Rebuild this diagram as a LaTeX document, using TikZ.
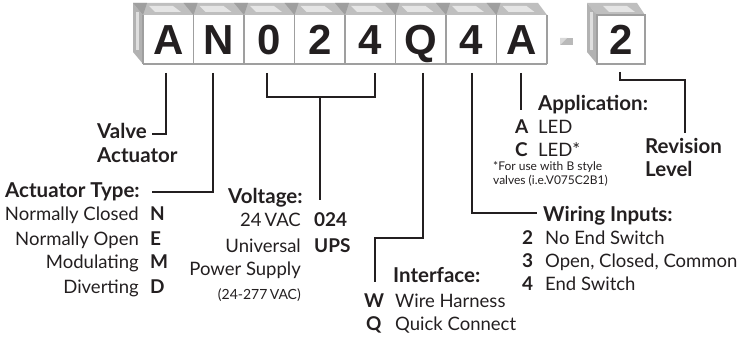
\documentclass[tikz,border=0pt]{standalone}
\usepackage{fontspec}
\setmainfont{Lato}
\newfontfamily\cellfont{Liberation Sans}
\definecolor{ink}{HTML}{231F20}
\tikzset{
    lead/.style={draw=ink, line width=1.4pt},
    cell/.style={font=\cellfont\bfseries\fontsize{42}{42}\selectfont, text=ink, anchor=base, inner sep=0pt},
    sep/.style={draw=gray!75, line width=1.1pt},
    topface/.style={fill=gray!50},
    sideface/.style={fill=gray!60},
    head/.style={font=\fontsize{20.5}{24}\selectfont\bfseries, text=ink, anchor=base west, inner sep=0pt},
    item/.style={font=\fontsize{18.5}{22}\selectfont, text=ink, anchor=base east, inner sep=0pt},
    itemw/.style={item, anchor=base west},
    code/.style={font=\fontsize{19}{22}\selectfont\bfseries, text=ink, anchor=base west, inner sep=0pt},
    note/.style={font=\fontsize{12}{14}\selectfont, text=ink, anchor=base west, inner sep=0pt}
}
\begin{document}
\begin{tikzpicture}[x=1pt, y=-1pt]
    \useasboundingbox (0,0) rectangle (739,339);
    \def \w {50.5}
    \def \xa {143}
    % the row of code boxes
    \fill[topface] (133,3) -- (538,3) -- (547,15) -- (\xa,15) -- cycle;
    \fill[sideface] (133,3) -- (\xa,15) -- (\xa,64) -- (133,52) -- cycle;
    \fill[gray!25] (136,12) rectangle (139,50);
    \fill[white] (\xa,15) rectangle (547,64);
    \foreach \c [count=\i from 0] in {A,N,0,2,4,Q,4,A}{
        \fill[gray!20] ({\xa+\w*\i+6},6) -- ({\xa+\w*\i+30},6) -- ({\xa+\w*\i+38},12) -- ({\xa+\w*\i+12},12) -- cycle;
        \fill[gray!75] ({\xa+\w*\i-10},3) -- ({\xa+\w*\i+4},3) -- ({\xa+\w*\i},15) -- cycle;
        \draw[sep] ({\xa+\w*\i},15) -- ({\xa+\w*\i},64);
        \node[cell] (c\i) at ({\xa+\w*(\i+0.5)},55) {\c};
    }
    \draw[sep] (547,15) -- (547,64);
    \draw[sep] (\xa,64) -- (547,64);
    % dash
    \fill[gray!55] (560,38) rectangle (573,45);
    \fill[gray!30] (560,38) -- (567,38) -- (560,45) -- cycle;
    % revision box
    \fill[topface] (587,3) -- (637,3) -- (645,15) -- (597,15) -- cycle;
    \fill[gray!20] (603,6) -- (627,6) -- (635,12) -- (609,12) -- cycle;
    \fill[sideface] (587,3) -- (597,15) -- (597,64) -- (587,52) -- cycle;
    \fill[gray!25] (590,12) rectangle (593,50);
    \draw[sep, fill=white] (597,15) rectangle (645,64);
    \node[cell] (rv) at (621,55) {2};
    % leader ends
    \coordinate (a1) at (166,73);
    \coordinate (a2) at (152,134);
    \coordinate (n1) at (213,73);
    \coordinate (n2) at (152,192);
    \coordinate (v1) at (267,73);
    \coordinate (v2) at (375,73);
    \coordinate (v3) at (320,97);
    \coordinate (v4) at (320,200);
    \coordinate (q1) at (423,73);
    \coordinate (q2) at (375,282);
    \coordinate (w1) at (472,73);
    \coordinate (w2) at (537,213);
    \coordinate (p1) at (521,73);
    \coordinate (p2) at (521,110);
    \coordinate (r1) at (620,72);
    \coordinate (r2) at (685,133);
    \draw[lead] (a1) |- (a2);
    \draw[lead] (n1) |- (n2);
    \draw[lead] (v1) |- (v3) -| (v2);
    \draw[lead] (v3) -- (v4);
    \draw[lead] (q1) -- (423,238) -| (q2);
    \draw[lead] (w1) |- (w2);
    \draw[lead] (p1) -- (p2);
    \draw[lead] (r1) -- (620,80) -| (r2);
    % valve actuator
    \node[head] (va) at (97,139) {Valve};
    \node[head] (vb) at (97,163) {Actuator};
    % actuator type
    \node[head] (at) at (5,198) {Actuator Type:};
    \foreach \t/\k [count=\i from 0] in {Normally Closed/N, Normally Open/E, Modulating/M, Diverting/D}{
        \node[item] (at\i) at (139,{221+24*\i}) {\t};
        \node[code] (atk\i) at (150,{221+24*\i}) {\k};
    }
    % voltage
    \node[head] (vt) at (228,204) {Voltage:};
    \node[item] (vt0) at (301,227) {24\,VAC};
    \node[code] (vtk0) at (314,227) {024};
    \node[item] (vt1) at (301,252) {Universal};
    \node[code] (vtk1) at (314,252) {UPS};
    \node[item] (vt2) at (301,275) {Power Supply};
    \node[item, font=\fontsize{14}{16}\selectfont] (vt3) at (301,299) {(24-277\,VAC)};
    % interface
    \node[head] (it) at (393,283) {Interface:};
    \node[code] (itk0) at (364,307) {W};
    \node[itemw] (it0) at (395,307) {Wire Harness};
    \node[code] (itk1) at (366,330) {Q};
    \node[itemw] (it1) at (395,330) {Quick Connect};
    % wiring inputs
    \node[head] (wi) at (543,222) {Wiring Inputs:};
    \foreach \k/\t [count=\i from 0] in {2/No End Switch, 3/{Open, Closed, Common}, 4/End Switch}{
        \node[code] (wik\i) at (522,{244+23*\i}) {\k};
        \node[itemw] (wi\i) at (545,{244+23*\i}) {\t};
    }
    % application
    \node[head] (ap) at (538,111) {Application:};
    \node[code] (apk0) at (515,134) {A};
    \node[itemw] (ap0) at (538,134) {LED};
    \node[code] (apk1) at (515,157) {C};
    \node[itemw] (ap1) at (538,157) {LED*};
    \node[note] (apn0) at (493,171) {*For use with B style};
    \node[note] (apn1) at (493,185) {valves (i.e.V075C2B1)};
    % revision level
    \node[head] (rl) at (645,154) {Revision};
    \node[head] (rl2) at (645,177) {Level};
\end{tikzpicture}
\end{document}
